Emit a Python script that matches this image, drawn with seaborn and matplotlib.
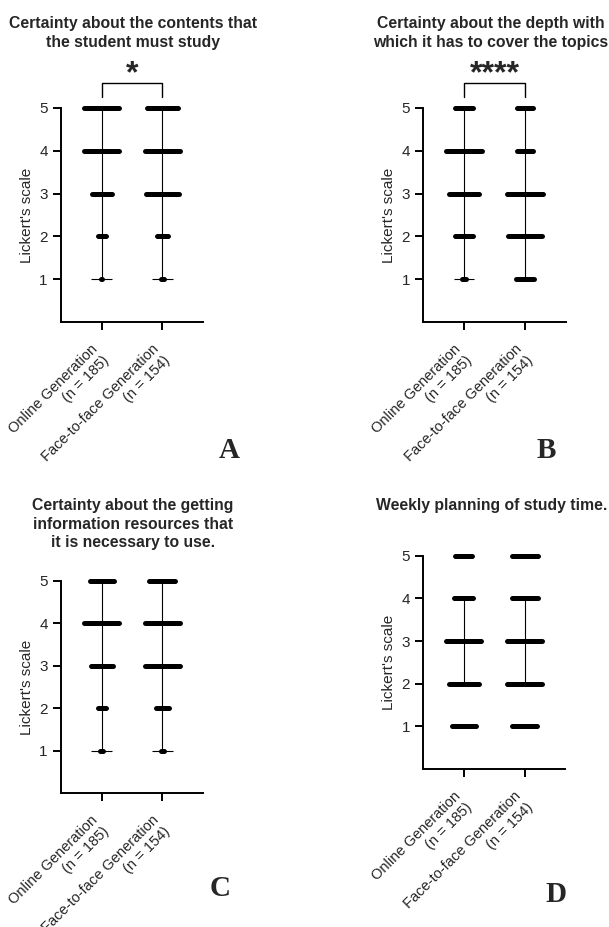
import numpy as np
import pandas as pd
import seaborn as sns
import matplotlib.pyplot as plt

levels = [1, 2, 3, 4, 5]
groups = ["Online Generation\n(n = 185)", "Face-to-face Generation\n(n = 154)"]

a_online = [3, 15, 37, 65, 65]
a_face = [3, 16, 46, 48, 41]
b_online = [8, 31, 52, 63, 31]
b_face = [24, 44, 45, 20, 21]
c_online = [6, 16, 44, 71, 48]
c_face = [4, 17, 48, 49, 36]
d_online = [35, 45, 52, 28, 25]
d_face = [26, 37, 37, 27, 27]

# error bar (low, high) per group
a_err = [(1, 5), (1, 5)]
b_err = [(1, 5), (1, 5)]
c_err = [(1, 5), (1, 5)]
d_err = [(2, 4), (2, 4)]

titles = ["Certainty about the contents that\nthe student must study",
          "Certainty about the depth with\nwhich it has to cover the topics",
          "Certainty about the getting\ninformation resources that\nit is necessary to use.",
          "Weekly planning of study time."]
stars = ["*", "****", None, None]
letters = ["A", "B", "C", "D"]

panels = [(a_online, a_face, a_err), (b_online, b_face, b_err),
          (c_online, c_face, c_err), (d_online, d_face, d_err)]

sns.set_style("ticks")
plt.rcParams['font.family'] = ['Liberation Sans', 'DejaVu Sans']

fig = plt.figure(figsize=(6.09, 9.27), dpi=100)

# axes boxes in figure fraction
boxes = [[0.1002, 0.6527, 0.2332, 0.2308],
         [0.695, 0.6527, 0.2338, 0.2308],
         [0.1002, 0.1446, 0.2332, 0.2287],
         [0.695, 0.1705, 0.2332, 0.2300]]
title_pos = [(0.218, 0.983), (0.806, 0.983), (0.218, 0.463), (0.808, 0.463)]
letter_pos = [(0.376, 0.514), (0.897, 0.514), (0.361, 0.041), (0.913, 0.035)]

for i, (online, face, err) in enumerate(panels):
    ax = fig.add_axes(boxes[i])
    df = pd.DataFrame({"level": levels * 2,
                       "count": online + face,
                       "group": [0] * 5 + [1] * 5})
    for g, sub in df.groupby("group"):
        lo, hi = err[g]
        ax.vlines(g, lo, hi, color="black", lw=0.8, zorder=2)
        ax.hlines([lo, hi], g - 0.17, g + 0.17, color="black", lw=0.8, zorder=2)
        half = 0.29 * sub["count"] / sub["count"].max()
        lines = ax.hlines(sub["level"], g - half, g + half, color="black",
                          lw=3.6, zorder=3, clip_on=False)
        lines.set_capstyle("round")
    if stars[i]:
        ax.plot([0, 0, 1, 1], [5.26, 5.59, 5.59, 5.26], color="black",
                lw=1.0, clip_on=False)
        ax.text(0.5, 5.60, stars[i], ha="center", va="baseline",
                fontsize=23, fontweight="bold", clip_on=False)
    ax.set_xlim(-0.667, 1.667)
    ax.set_ylim(0, 5)
    ax.set_yticks(levels)
    ax.set_xticks([0, 1])
    ax.set_xticklabels(groups, rotation=45, ha="right", va="center",
                       rotation_mode="anchor", multialignment="right",
                       fontsize=10.5)
    ax.tick_params(labelsize=11, width=1.4, length=6, color="black")
    ax.tick_params(axis="x", labelsize=10.5, pad=16)
    ax.set_ylabel("Lickert's scale", fontsize=11, labelpad=4)
    sns.despine(ax=ax)
    for s in ["left", "bottom"]:
        ax.spines[s].set_linewidth(1.4)
        ax.spines[s].set_color("black")
    fig.text(*title_pos[i], titles[i], ha="center", va="top",
             fontsize=11.3, fontweight="bold", linespacing=1.32)
    fig.text(*letter_pos[i], letters[i], ha="center", va="center",
             fontsize=21, fontweight="bold", family="Liberation Serif")

fig.savefig("out.png", dpi=100, facecolor="white")
